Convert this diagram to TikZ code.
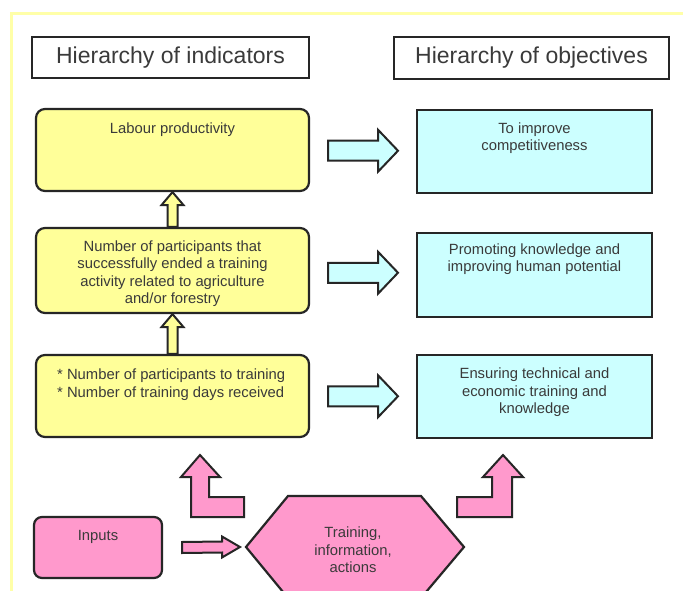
\documentclass[tikz,border=0pt]{standalone}
\usepackage{fontspec}
\setmainfont{Liberation Sans}
\usetikzlibrary{calc}
\definecolor{yel}{HTML}{FFFF99}
\definecolor{cya}{HTML}{CCFFFF}
\definecolor{pnk}{HTML}{FF99CC}
\definecolor{framey}{HTML}{FFFFA8}
\definecolor{ink}{HTML}{3A3A3A}
\begin{document}
\begin{tikzpicture}[x=1pt,y=-1pt,
  outl/.style={draw=black!85, line width=2.2pt},
  hdr/.style={outl, fill=white, minimum width=277pt, minimum height=41pt, inner sep=0pt,
    font=\fontsize{23}{26}\selectfont, text=ink},
  ybox/.style={outl, fill=yel, rounded corners=9pt, minimum width=273pt, inner sep=0pt},
  cbox/.style={outl, fill=cya, minimum width=235pt, inner sep=0pt},
  pbox/.style={outl, fill=pnk, rounded corners=8pt, minimum width=128pt, minimum height=61pt, inner sep=0pt},
  txt/.style={font=\fontsize{14.8}{17.5}\selectfont, text=ink, inner sep=0pt, align=center},
  barrow/.style={draw=black!85, line width=2pt, line join=miter}
]
\useasboundingbox (0,0) rectangle (683,591);
\fill[white] (0,0) rectangle (683,591);
% pale frame round the sheet
\draw[framey, line width=3pt] (683,14) -- (11,14) -- (11,591);

% column headers
\node[hdr] (hind) at (170.5,57.5) {Hierarchy of indicators};
\node[hdr, minimum width=275pt, minimum height=42pt] (hobj) at (531.5,58) {Hierarchy of objectives};

% indicator boxes
\node[ybox, minimum height=82pt] (ind1) at (172.5,150) {};
\node[ybox, minimum height=85pt] (ind2) at (172.5,270.5) {};
\node[ybox, minimum height=82pt] (ind3) at (172.5,396) {};
\node[txt] (ind1t) at (172.5,130) {Labour productivity};
\node[txt] (ind2t) at (172.5,273.5) {Number of participants that\\successfully ended a training\\activity related to agriculture\\and/or forestry};
\node[txt, align=left, anchor=west] (ind3t) at (57,384.5) {* Number of participants to training\\* Number of training days received};

% objective boxes
\node[cbox, minimum height=83pt] (obj1) at (534.5,151.5) {};
\node[cbox, minimum height=84pt] (obj2) at (534.5,275) {};
\node[cbox, minimum height=83pt] (obj3) at (534.5,396.5) {};
\node[txt] (obj1t) at (534.5,138) {To improve\\competitiveness};
\node[txt] (obj2t) at (534.5,259) {Promoting knowledge and\\improving human potential};
\node[txt] (obj3t) at (534.5,392.5) {Ensuring technical and\\economic training and\\knowledge};

% block arrows up the indicator column
\foreach \lo/\hi in {ind2/ind1, ind3/ind2}{
  \draw[barrow, fill=yel]
    ($(\lo.north)+(-5,0)$) -- ($(\hi.south)+(-5,13)$) -- ($(\hi.south)+(-11,13)$) --
    (\hi.south) -- ($(\hi.south)+(11,13)$) -- ($(\hi.south)+(5,13)$) --
    ($(\lo.north)+(5,0)$) -- cycle;
}

% block arrows from indicators to objectives
\foreach \a/\b in {ind1/obj1, ind2/obj2, ind3/obj3}{
  \coordinate (m) at ($(\a.east)!.5!(\b.west)$);
  \draw[barrow, fill=cya]
    ($(m)+(-35,-10)$) -- ($(m)+(15,-10)$) -- ($(m)+(15,-21)$) -- ($(m)+(35,0)$) --
    ($(m)+(15,21)$) -- ($(m)+(15,10)$) -- ($(m)+(-35,10)$) -- cycle;
}

% inputs and actions
\node[pbox] (inp) at (98,547.5) {};
\node[txt] (inpt) at (98,537) {Inputs};
\coordinate (hw) at (246,547);
\coordinate (he) at (464,547);
\draw[outl, fill=pnk, line join=miter] (hw) -- (288,496) -- (421,496) -- (he) -- (421,598) -- (288,598) -- cycle;
\node[txt] (act) at (353,550) {Training,\\information,\\actions};

% arrow from inputs to actions
\draw[barrow, fill=pnk]
  ($(inp.east)+(19,-5.5)$) -- ($(hw)+(-24,-5.5)$) -- ($(hw)+(-24,-10.5)$) -- ($(hw)+(-6,0)$) --
  ($(hw)+(-24,10.5)$) -- ($(hw)+(-24,5.5)$) -- ($(inp.east)+(19,5.5)$) -- cycle;

% bent arrows from actions up to both columns
\draw[barrow, fill=pnk] (244,497) -- (209,497) -- (209,477) -- (220,477) -- (200,455) --
  (181,477) -- (191,477) -- (191,517) -- (244,517) -- cycle;
\draw[barrow, fill=pnk] (457,497) -- (492,497) -- (492,477) -- (483,477) -- (503,455) --
  (523,477) -- (512,477) -- (512,517) -- (457,517) -- cycle;
\end{tikzpicture}
\end{document}
